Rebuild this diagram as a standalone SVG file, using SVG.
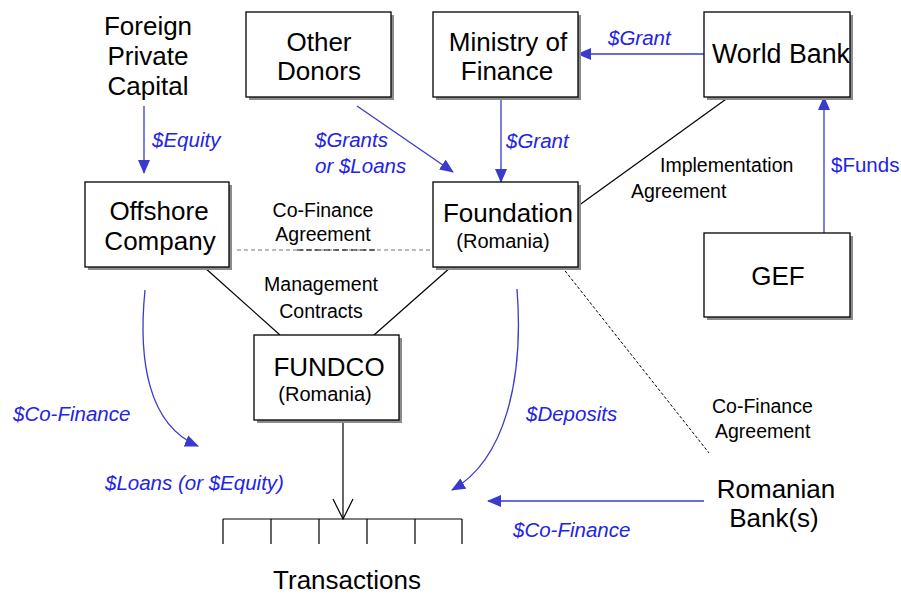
<svg xmlns="http://www.w3.org/2000/svg" width="901" height="595" viewBox="0 0 901 595">
  <style>
    .box { fill: #fff; stroke: #000; stroke-width: 1.3; }
    .shadow { fill: #8c8c8c; }
    .big { font-family: "Liberation Sans", Arial, sans-serif; font-size: 26px; fill: #000; }
    .mid { font-family: "Liberation Sans", Arial, sans-serif; font-size: 20px; fill: #000; }
    .note { font-family: "Liberation Sans", Arial, sans-serif; font-size: 19.5px; fill: #000; }
    .money { font-family: "Liberation Sans", Arial, sans-serif; font-size: 20.5px; font-style: italic; fill: #2323e6; }
    .flow { fill: none; stroke: #3a3acc; stroke-width: 1.3; }
    .link { fill: none; stroke: #000; stroke-width: 1.2; }
  </style>
  <defs>
    <marker id="tri" markerUnits="userSpaceOnUse" markerWidth="14" markerHeight="12" viewBox="0 0 14 12" refX="13" refY="6" orient="auto">
      <path d="M0,0 L14,6 L0,12 Z" fill="#3a3acc"/>
    </marker>
  </defs>

  <rect width="901" height="595" fill="#fff"/>

  <!-- connectors -->
  <g id="connectors">
    <!-- money flows -->
    <line class="flow" x1="144" y1="106" x2="144" y2="173" marker-end="url(#tri)"/>
    <line class="flow" x1="357" y1="106" x2="453" y2="172" marker-end="url(#tri)"/>
    <line class="flow" x1="501" y1="97" x2="501" y2="182" marker-end="url(#tri)"/>
    <line class="flow" x1="704" y1="54" x2="578" y2="54" marker-end="url(#tri)"/>
    <line class="flow" x1="824" y1="233" x2="824" y2="97" marker-end="url(#tri)"/>
    <line class="flow" x1="704" y1="501" x2="488" y2="501" marker-end="url(#tri)"/>
    <path class="flow" d="M145,290 C138,360 148,425 198,446" marker-end="url(#tri)"/>
    <path class="flow" d="M517,289 C524,380 505,460 452,490" marker-end="url(#tri)"/>

    <!-- agreements and contracts -->
    <line class="link" x1="729" y1="97" x2="578" y2="206"/>
    <line class="link" x1="204" y1="267" x2="280" y2="335"/>
    <line class="link" x1="451" y1="267" x2="374" y2="335"/>
    <line x1="237" y1="250" x2="433" y2="250" stroke="#777" stroke-width="1" stroke-dasharray="4,3"/>
    <line x1="297" y1="250" x2="377" y2="250" stroke="#000" stroke-width="1" stroke-dasharray="6,3"/>
    <line x1="562" y1="267" x2="709" y2="453" stroke="#000" stroke-width="1" stroke-dasharray="3,2"/>

    <!-- FUNDCO to transactions -->
    <line class="link" x1="343" y1="420" x2="343" y2="519"/>
    <polyline class="link" points="333,499 343,519 353,499"/>
  </g>

  <!-- sources -->
  <g id="foreign-capital">
    <text class="big" x="148" y="35" text-anchor="middle">Foreign</text>
    <text class="big" x="148" y="65" text-anchor="middle">Private</text>
    <text class="big" x="148" y="95" text-anchor="middle">Capital</text>
  </g>

  <g id="other-donors">
    <rect class="shadow" x="249" y="15" width="145" height="85"/>
    <rect class="box" x="246" y="12" width="145" height="85"/>
    <text class="big" x="319" y="51" text-anchor="middle">Other</text>
    <text class="big" x="319" y="80" text-anchor="middle">Donors</text>
  </g>

  <g id="ministry">
    <rect class="shadow" x="436" y="15" width="145" height="85"/>
    <rect class="box" x="433" y="12" width="145" height="85"/>
    <text class="big" x="508" y="51" text-anchor="middle">Ministry of</text>
    <text class="big" x="507" y="80" text-anchor="middle">Finance</text>
  </g>

  <g id="world-bank">
    <rect class="shadow" x="707" y="15" width="146" height="85"/>
    <rect class="box" x="704" y="12" width="146" height="85"/>
    <text class="big" x="712" y="63" style="font-size:26.8px">World Bank</text>
  </g>

  <g id="gef">
    <rect class="shadow" x="707" y="236" width="146" height="84"/>
    <rect class="box" x="704" y="233" width="146" height="84"/>
    <text class="big" x="778" y="285" text-anchor="middle">GEF</text>
  </g>

  <g id="offshore">
    <rect class="shadow" x="88" y="185" width="144" height="85"/>
    <rect class="box" x="85" y="182" width="144" height="85"/>
    <text class="big" x="159" y="220" text-anchor="middle">Offshore</text>
    <text class="big" x="160" y="250" text-anchor="middle">Company</text>
  </g>

  <g id="foundation">
    <rect class="shadow" x="436" y="185" width="145" height="85"/>
    <rect class="box" x="433" y="182" width="145" height="85"/>
    <text class="big" x="508" y="222" text-anchor="middle">Foundation</text>
    <text class="mid" x="503" y="248" text-anchor="middle">(Romania)</text>
  </g>

  <g id="fundco">
    <rect class="shadow" x="257" y="338" width="145" height="85"/>
    <rect class="box" x="254" y="335" width="145" height="85"/>
    <text class="big" x="329" y="376" text-anchor="middle">FUNDCO</text>
    <text class="mid" x="325" y="401" text-anchor="middle">(Romania)</text>
  </g>

  <g id="romanian-banks">
    <text class="big" x="776" y="498" text-anchor="middle">Romanian</text>
    <text class="big" x="774" y="527" text-anchor="middle">Bank(s)</text>
  </g>

  <g id="transactions">
    <path class="link" d="M223,519 H462 M223,519 V544 M271,519 V544 M319,519 V544 M367,519 V544 M415,519 V544 M462,519 V544"/>
    <text class="big" x="347" y="589" text-anchor="middle">Transactions</text>
  </g>

  <!-- connector labels -->
  <g id="labels">
    <text class="money" x="152" y="147">$Equity</text>
    <text class="money" x="315" y="147">$Grants</text>
    <text class="money" x="315" y="173">or $Loans</text>
    <text class="money" x="506" y="148">$Grant</text>
    <text class="money" x="608" y="45">$Grant</text>
    <text class="money" x="831" y="172" style="font-style:normal">$Funds</text>
    <text class="money" x="13" y="421">$Co-Finance</text>
    <text class="money" x="105" y="490">$Loans (or $Equity)</text>
    <text class="money" x="526" y="421">$Deposits</text>
    <text class="money" x="513" y="537">$Co-Finance</text>

    <text class="note" x="660" y="172">Implementation</text>
    <text class="note" x="631" y="198">Agreement</text>
    <text class="note" x="323" y="217" text-anchor="middle">Co-Finance</text>
    <text class="note" x="323" y="241" text-anchor="middle">Agreement</text>
    <text class="note" x="321" y="291" text-anchor="middle">Management</text>
    <text class="note" x="321" y="318" text-anchor="middle">Contracts</text>
    <text class="note" x="712" y="413">Co-Finance</text>
    <text class="note" x="715" y="438">Agreement</text>
  </g>
</svg>
